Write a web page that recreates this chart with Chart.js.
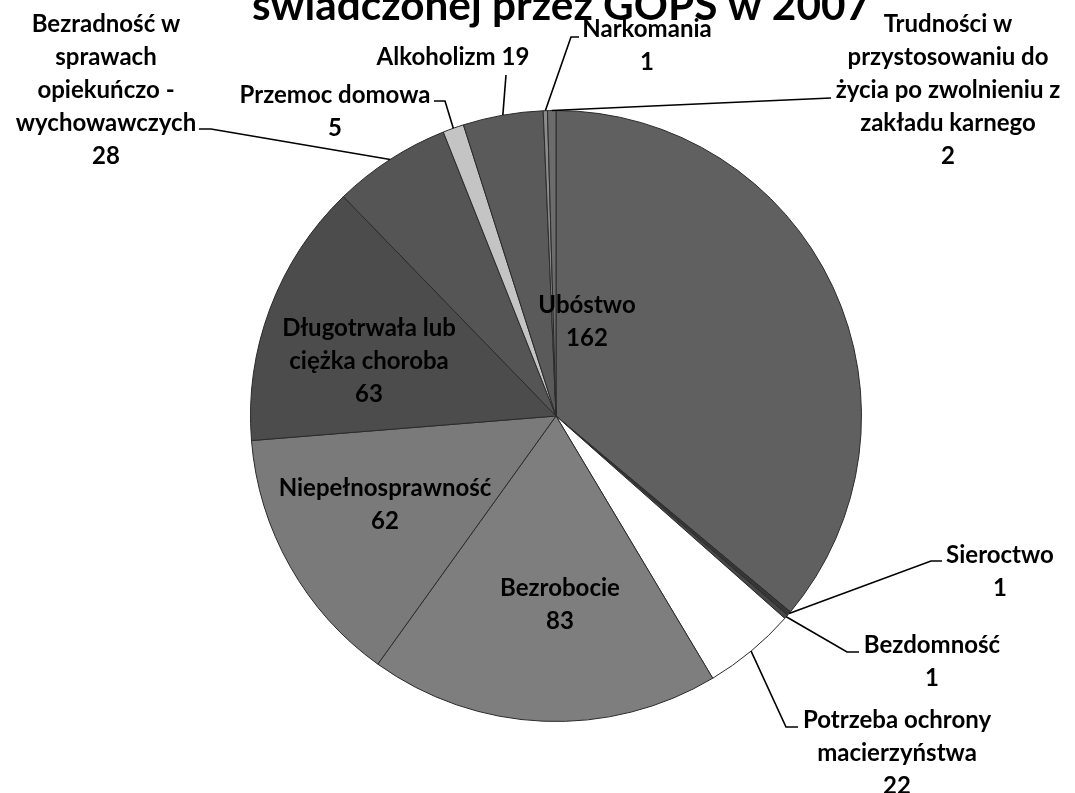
<!DOCTYPE html>
<html lang="pl">
<head>
<meta charset="utf-8">
<title>Pomoc GOPS 2007</title>
<script src="https://cdn.jsdelivr.net/npm/chart.js@4.4.1/dist/chart.umd.min.js"></script>
<style>
  html, body { margin: 0; padding: 0; background: #fff; }
  #wrap { width: 1075px; height: 793px; }
</style>
</head>
<body>
<div id="wrap"><canvas id="gopsChart" width="1075" height="793"></canvas></div>
<script>
const titleText = 'świadczonej przez GOPS w 2007';

const categories = [
  'Ubóstwo', 'Sieroctwo', 'Bezdomność', 'Potrzeba ochrony macierzyństwa',
  'Bezrobocie', 'Niepełnosprawność', 'Długotrwała lub ciężka choroba',
  'Bezradność w sprawach opiekuńczo - wychowawczych', 'Przemoc domowa',
  'Alkoholizm', 'Narkomania',
  'Trudności w przystosowaniu do życia po zwolnieniu z zakładu karnego'
];
const counts = [162, 1, 1, 22, 83, 62, 63, 28, 5, 19, 1, 2];

// how each category name is broken into lines on the chart
const labelLines = [
  ['Ubóstwo'],
  ['Sieroctwo'],
  ['Bezdomność'],
  ['Potrzeba ochrony', 'macierzyństwa'],
  ['Bezrobocie'],
  ['Niepełnosprawność'],
  ['Długotrwała lub', 'ciężka choroba'],
  ['Bezradność w', 'sprawach', 'opiekuńczo -', 'wychowawczych'],
  ['Przemoc domowa'],
  ['Alkoholizm'],
  ['Narkomania'],
  ['Trudności w', 'przystosowaniu do', 'życia po zwolnieniu z', 'zakładu karnego']
];

const sliceColors = [
  '#606060', '#363636', '#474747', '#ffffff', '#7e7e7e', '#7a7a7a',
  '#4c4c4c', '#555555', '#c4c4c4', '#5a5a5a', '#8c8c8c', '#6c6c6c'
];

// label placement (first line centre) and leader elbows, label side first
const labelPos = [
  { x: 587, y: 305 },
  { x: 1000, y: 555, leader: [[942, 561], [931, 561]] },
  { x: 932, y: 645, leader: [[859, 652], [847, 652]] },
  { x: 897, y: 720, leader: [[798, 727], [786, 727]] },
  { x: 560, y: 588 },
  { x: 385, y: 488 },
  { x: 369, y: 328 },
  { x: 106, y: 24, leader: [[199, 129], [211, 129]] },
  { x: 335, y: 95, leader: [[434, 101], [445, 101]] },
  { x: 453, y: 57, inline: true, leader: [[506, 75]] },
  { x: 647, y: 29, leader: [[579, 37], [571, 37]] },
  { x: 948, y: 24, leader: [[831, 98]] }
];

const LINE_H = 33;
const LABEL_FONT = 'bold 24px Lato';

const titlePlugin = {
  id: 'cutTitle',
  afterDraw(chart) {
    const ctx = chart.ctx;
    ctx.save();
    ctx.font = 'bold 40px Lato';
    const w = ctx.measureText(titleText).width;
    const size = 40 * 618 / w;
    ctx.font = 'bold ' + size.toFixed(1) + 'px Lato';
    ctx.fillStyle = '#000';
    ctx.textAlign = 'left';
    ctx.textBaseline = 'alphabetic';
    ctx.fillText(titleText, 252, 20);
    ctx.restore();
  }
};

const sliceLabels = {
  id: 'sliceLabels',
  afterDatasetsDraw(chart) {
    const ctx = chart.ctx;
    const arcs = chart.getDatasetMeta(0).data;
    ctx.save();
    arcs.forEach((arc, i) => {
      const p = arc.getProps(['x', 'y', 'startAngle', 'endAngle', 'outerRadius'], true);
      const mid = (p.startAngle + p.endAngle) / 2;
      const pos = labelPos[i];
      if (pos.leader) {
        const ex = p.x + Math.cos(mid) * p.outerRadius;
        const ey = p.y + Math.sin(mid) * p.outerRadius;
        ctx.beginPath();
        ctx.moveTo(pos.leader[0][0], pos.leader[0][1]);
        for (let k = 1; k < pos.leader.length; k++) ctx.lineTo(pos.leader[k][0], pos.leader[k][1]);
        ctx.lineTo(ex, ey);
        ctx.strokeStyle = '#000';
        ctx.lineWidth = 1.6;
        ctx.stroke();
      }
      let lines = labelLines[i].slice();
      if (pos.inline) lines[lines.length - 1] += ' ' + counts[i];
      else lines.push(String(counts[i]));
      ctx.font = LABEL_FONT;
      ctx.fillStyle = '#000';
      ctx.textAlign = 'center';
      ctx.textBaseline = 'middle';
      lines.forEach((t, j) => ctx.fillText(t, pos.x, pos.y + j * LINE_H));
    });
    ctx.restore();
  }
};

new Chart(document.getElementById('gopsChart'), {
  type: 'pie',
  data: {
    labels: categories,
    datasets: [{
      data: counts,
      backgroundColor: sliceColors,
      borderColor: '#2a2a2a',
      borderWidth: 1,
      hoverOffset: 0,
      offset: 0
    }]
  },
  options: {
    responsive: false,
    animation: false,
    layout: { padding: { left: 250, right: 213, top: 110, bottom: 71 } },
    plugins: {
      legend: { display: false },
      tooltip: { enabled: false },
      title: { display: false }
    }
  },
  plugins: [sliceLabels, titlePlugin]
});
</script>
</body>
</html>
